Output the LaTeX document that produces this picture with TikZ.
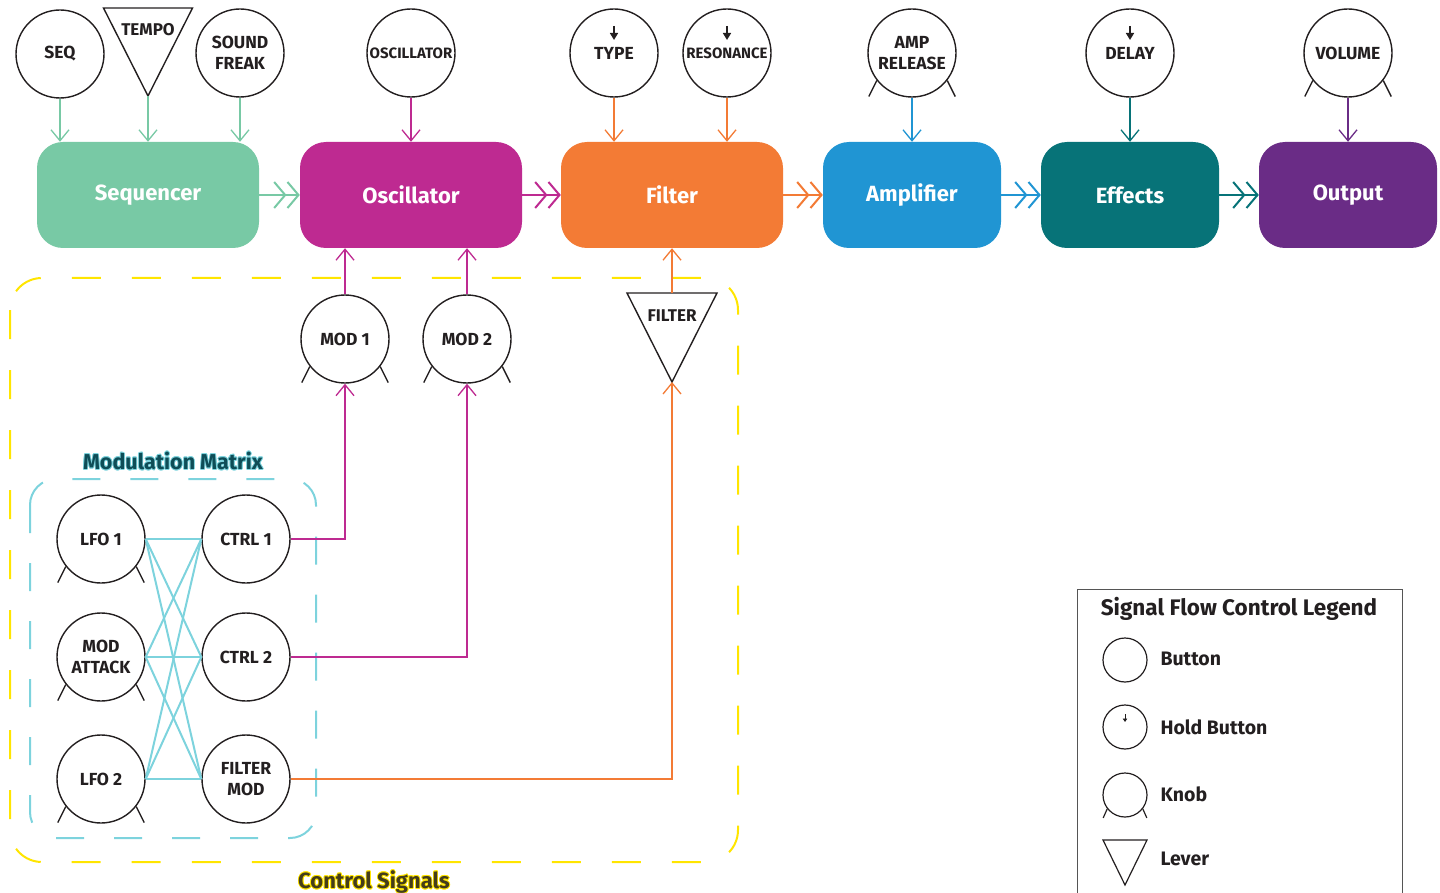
\documentclass[tikz,border=0pt]{standalone}
\usepackage{fontspec}
\setmainfont{Fira Sans}
\usepackage{tikz}
\usetikzlibrary{arrows.meta}
\usetikzlibrary{positioning}

\definecolor{seqgreen}{HTML}{78C9A5}
\definecolor{oscmagenta}{HTML}{BE2A91}
\definecolor{filtorange}{HTML}{F37B35}
\definecolor{ampblue}{HTML}{2095D3}
\definecolor{fxteal}{HTML}{077378}
\definecolor{outpurple}{HTML}{6A2C86}
\definecolor{ctrlyellow}{HTML}{FFE500}
\definecolor{matrixcyan}{HTML}{7DD3DD}
\definecolor{inkdark}{HTML}{231F20}
\definecolor{matrixtitle}{HTML}{0E4D57}
\definecolor{legendgray}{HTML}{555555}

\tikzset{
	block/.style={rounded corners=26pt, minimum height=106pt, inner sep=0pt,
		text=white, font=\bfseries\fontsize{22}{26}\selectfont},
	wideblock/.style={block, minimum width=222pt},
	narrowblock/.style={block, minimum width=178pt},
	button/.style={circle, draw=inkdark, line width=1.4pt, minimum size=88pt,
		inner sep=0pt, align=center, text=inkdark,
		font=\bfseries\fontsize{17.5}{20.5}\selectfont},
	smallbutton/.style={circle, draw=inkdark, line width=1.2pt, minimum size=44pt, inner sep=0pt},
	leverline/.style={draw=inkdark, line width=1.4pt, line join=miter},
	knobtick/.style={draw=inkdark, line width=1.4pt},
	holdtip/.style={-{Triangle[length=7pt,width=8pt]}, line width=1.6pt, draw=inkdark},
	ctrlarrow/.style={-{Straight Barb[length=11pt,width=18pt]}, line width=1.3pt},
	chain/.style={-{Straight Barb[length=11pt,width=26pt] Straight Barb[length=11pt,width=26pt]}, line width=2pt},
	matrixline/.style={draw=matrixcyan, line width=2pt},
	label/.style={text=inkdark, font=\bfseries\fontsize{19.5}{22}\selectfont, anchor=west},
}

\newcommand{\knobticks}[3]{%
	\draw[knobtick] (#1.218) -- ++(-#2,#3) (#1.322) -- ++(#2,#3);}

\begin{document}
\begin{tikzpicture}[x=1pt,y=-1pt]
		\useasboundingbox (0,0) rectangle (1440,893);
		
		% signal chain
		\node[wideblock, fill=seqgreen] (seq) at (148,195) {Sequencer};
		\node[wideblock, fill=oscmagenta] (osc) at (411,195) {Oscillator};
		\node[wideblock, fill=filtorange] (filt) at (672,195) {Filter};
		\node[narrowblock, fill=ampblue] (amp) at (912,195) {Amplifier};
		\node[narrowblock, fill=fxteal] (fx) at (1130,195) {Effects};
		\node[narrowblock, fill=outpurple] (out) at (1348,195) {Output};
		
		\draw[chain, seqgreen] (seq) -- (osc);
		\draw[chain, oscmagenta] (osc) -- (filt);
		\draw[chain, filtorange] (filt) -- (amp);
		\draw[chain, ampblue] (amp) -- (fx);
		\draw[chain, fxteal] (fx) -- (out);
		
		% top controls
		\node[button] (seqbtn) at (60,54) {SEQ};
		\coordinate (tempo) at (148,8);
		\coordinate (tempo-tip) at (148,96);
		\draw[leverline] (tempo) ++(-44.5,0) -- ++(89,0) -- (tempo-tip) -- cycle;
		\node[text=inkdark, font=\bfseries\fontsize{17}{20}\selectfont] (tempolbl) at (148,30) {TEMPO};
		\node[button] (freak) at (240,53) {SOUND\\FREAK};
		\node[button, font=\bfseries\fontsize{15}{16}\selectfont] (oscbtn) at (411,53) {OSCILLATOR};
		\node[button] (type) at (614,53) {TYPE};
		\node[button, font=\bfseries\fontsize{15}{16}\selectfont] (reso) at (727,53) {RESONANCE};
		\node[button] (amprel) at (912,53) {AMP\\RELEASE};
		\node[button] (delay) at (1130,53) {DELAY};
		\node[button] (volume) at (1348,53) {VOLUME};
		
		\foreach \h in {type,reso,delay}{
			\draw[holdtip] ([yshift=27pt]\h.center) -- ++(0,14);
		}
		\knobticks{amprel}{8}{16}
		\knobticks{volume}{8}{16}
		
		\draw[ctrlarrow, seqgreen] (seqbtn) -- (seq.north -| seqbtn);
		\draw[ctrlarrow, seqgreen] (tempo-tip) -- (seq.north -| tempo-tip);
		\draw[ctrlarrow, seqgreen] (freak) -- (seq.north -| freak);
		\draw[ctrlarrow, oscmagenta] (oscbtn) -- (osc.north -| oscbtn);
		\draw[ctrlarrow, filtorange] (type) -- (filt.north -| type);
		\draw[ctrlarrow, filtorange] (reso) -- (filt.north -| reso);
		\draw[ctrlarrow, ampblue] (amprel) -- (amp.north -| amprel);
		\draw[ctrlarrow, fxteal] (delay) -- (fx.north -| delay);
		\draw[ctrlarrow, outpurple] (volume) -- (out.north -| volume);
		
		% control signals
		\draw[ctrlyellow, line width=2pt, dash pattern=on 29pt off 31pt, rounded corners=32pt]
			(10,278) rectangle (738,862);
		\foreach \a in {0,30,...,330}{
			\node[text=ctrlyellow, font=\bfseries\fontsize{22}{26}\selectfont, shift={(\a:0.8pt)}] at (374,882) {Control Signals};
		}
		\node[text=inkdark!85!ctrlyellow, font=\bfseries\fontsize{22}{26}\selectfont] (ctrltitle) at (374,882) {Control Signals};
		
		\node[button] (mod1) at (345,339) {MOD 1};
		\node[button] (mod2) at (467,339) {MOD 2};
		\knobticks{mod1}{8}{16}
		\knobticks{mod2}{8}{16}
		\coordinate (flever) at (672,293);
		\coordinate (flever-tip) at (672,382);
		\draw[leverline] (flever) ++(-45,0) -- ++(90,0) -- (flever-tip) -- cycle;
		\node[text=inkdark, font=\bfseries\fontsize{17}{20}\selectfont] (fleverlbl) at (672,316) {FILTER};
		
		\draw[ctrlarrow, oscmagenta] (mod1) -- (osc.south -| mod1);
		\draw[ctrlarrow, oscmagenta] (mod2) -- (osc.south -| mod2);
		\draw[ctrlarrow, filtorange] (flever) -- (filt.south -| flever);
		
		% modulation matrix
		\draw[matrixcyan, line width=2pt, dash pattern=on 28pt off 30pt, rounded corners=26pt]
			(30,479) rectangle (316,838);
		\foreach \a in {0,30,...,330}{
			\node[text=matrixcyan, font=\bfseries\fontsize{21.5}{26}\selectfont, shift={(\a:0.8pt)}] at (173,461) {Modulation Matrix};
		}
		\node[text=matrixtitle, font=\bfseries\fontsize{21.5}{26}\selectfont] (mmtitle) at (173,461) {Modulation Matrix};
		
		\node[button] (lfoa) at (101,539) {LFO 1};
		\node[button] (modatk) at (101,657) {MOD\\ATTACK};
		\node[button] (lfob) at (101,779) {LFO 2};
		\node[button] (ctrla) at (246,539) {CTRL 1};
		\node[button] (ctrlb) at (246,657) {CTRL 2};
		\node[button] (fmod) at (246,779) {FILTER\\MOD};
		\foreach \k in {lfoa,modatk,lfob}{
			\knobticks{\k}{8}{16}
		}
		
		\foreach \a in {lfoa,modatk,lfob}{
			\foreach \b in {ctrla,ctrlb,fmod}{
				\draw[matrixline] (\a.east) -- (\b.west);
			}
		}
		
		\draw[ctrlarrow, oscmagenta] (ctrla.east) -| (mod1.south);
		\draw[ctrlarrow, oscmagenta] (ctrlb.east) -| (mod2.south);
		\draw[ctrlarrow, filtorange] (fmod.east) -| (flever-tip);
		
		% legend
		\draw[legendgray, line width=1pt] (1077,900) -- (1077,589) -- (1402,589) -- (1402,900);
		\node[text=inkdark, font=\bfseries\fontsize{22.5}{26}\selectfont] (legtitle) at (1239,609) {Signal Flow Control Legend};
		\node[smallbutton] (legbtn) at (1125,660) {};
		\node[label] (legbtnlbl) at (1157,659) {Button};
		\node[smallbutton] (leghold) at (1125,727) {};
		\draw[-{Triangle[length=3.5pt,width=4.5pt]}, line width=1pt, inkdark] ([yshift=13pt]leghold.center) -- ++(0,8);
		\node[label] (legholdlbl) at (1157,727) {Hold Button};
		\node[smallbutton] (legknob) at (1125,795) {};
		\draw[knobtick, line width=1.2pt] (legknob.218) -- ++(-4,9) (legknob.322) -- ++(4,9);
		\node[label] (legknoblbl) at (1157,794) {Knob};
		\coordinate (leglever) at (1125,840);
		\coordinate (leglever-tip) at (1125,885);
		\draw[leverline, line width=1.2pt] (leglever) ++(-22,0) -- ++(44,0) -- (leglever-tip) -- cycle;
		\node[label] (leglevlbl) at (1157,859) {Lever};
\end{tikzpicture}
\end{document}
